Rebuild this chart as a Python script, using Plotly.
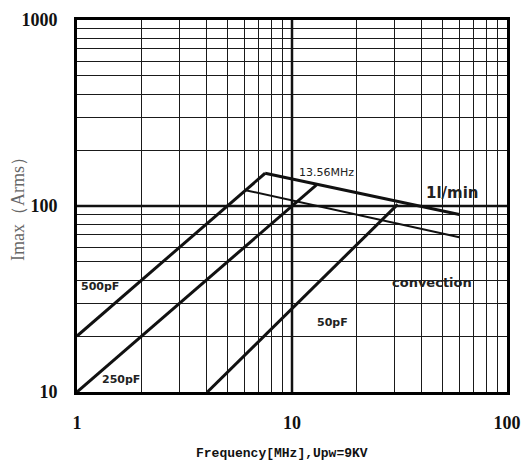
import numpy as np
import plotly.graph_objects as go

# ---- data ----
f_500 = [1.0, 7.5]
i_500 = [20.0, 150.0]
f_250 = [1.0, 13.0]
i_250 = [10.0, 130.0]
f_50 = [4.04, 31.0]
i_50 = [10.0, 102.0]
f_1lmin = [7.5, 60.0]
i_1lmin = [150.0, 90.0]
f_conv = [6.0, 60.0]
i_conv = [122.0, 68.0]

x_ref = [10, 10]
y_ref_span = [10, 1000]
y_ref = [100, 100]
x_ref_span = [1, 100]

x_ticks = [1, 2, 3, 4, 5, 6, 7, 8, 9, 10, 20, 30, 40, 50, 60, 70, 80, 90, 100]
x_labels = ["1"] + [""] * 8 + ["10"] + [""] * 8 + ["100"]
y_ticks = [10, 20, 30, 40, 50, 60, 70, 80, 90, 100, 200, 300, 400, 500, 600, 700, 800, 900, 1000]
y_labels = ["10"] + [""] * 8 + ["100"] + [""] * 8 + ["1000"]

labels = ["13.56MHz", "1l/min", "convection", "500pF", "250pF", "50pF"]
label_f = [14.5, 55.5, 44.8, 1.28, 1.6, 15.4]
label_i = [152, 117, 39, 36.7, 11.7, 23.5]
label_size = [11, 15, 13, 11, 11, 11]

fig = go.Figure()
line_col = "#111111"
fig.add_trace(go.Scatter(x=x_ref, y=y_ref_span, mode="lines", line=dict(color=line_col, width=2.5), hoverinfo="skip"))
fig.add_trace(go.Scatter(x=x_ref_span, y=y_ref, mode="lines", line=dict(color=line_col, width=2.5), hoverinfo="skip"))
for fx, iy, w in [(f_500, i_500, 3), (f_250, i_250, 3), (f_50, i_50, 3), (f_1lmin, i_1lmin, 3), (f_conv, i_conv, 2)]:
    fig.add_trace(go.Scatter(x=fx, y=iy, mode="lines", line=dict(color=line_col, width=w)))

for t, fx, iy, s in zip(labels, label_f, label_i, label_size):
    fig.add_annotation(x=np.log10(fx), y=np.log10(iy), xref="x", yref="y", text="<b>%s</b>" % t if t != "13.56MHz" else t,
                       showarrow=False, font=dict(family="DejaVu Sans", size=s, color="#222222"))

fig.add_annotation(x=-0.137, y=0.503, xref="paper", yref="paper", text="Imax（Arms）", textangle=-90,
                   xanchor="center", yanchor="middle",
                   showarrow=False, font=dict(family="Liberation Serif", size=18, color="#666666"))
fig.add_annotation(x=0.477, y=-0.164, xref="paper", yref="paper", text="<b>Frequency[MHz],Upw=9KV</b>",
                   xanchor="center", yanchor="middle",
                   showarrow=False, font=dict(family="Liberation Mono", size=13, color="#111111"))

axis_common = dict(type="log", showgrid=True, gridcolor="#1a1a1a", gridwidth=1, showline=True, linecolor="#000000",
                   linewidth=3, mirror=True, ticks="", zeroline=False, automargin=False,
                   tickfont=dict(family="Liberation Serif", size=18, color="#111111", weight="bold"))
fig.update_xaxes(range=[0, 2], tickvals=x_ticks, ticktext=x_labels, ticklabelstandoff=12, **axis_common)
fig.update_yaxes(range=[1, 3], tickvals=y_ticks, ticktext=y_labels, ticklabelstandoff=13, **axis_common)
fig.update_layout(width=524, height=454, margin=dict(l=69, r=25, t=12, b=70), showlegend=False,
                  plot_bgcolor="white", paper_bgcolor="white")
fig.write_html("out.html")
